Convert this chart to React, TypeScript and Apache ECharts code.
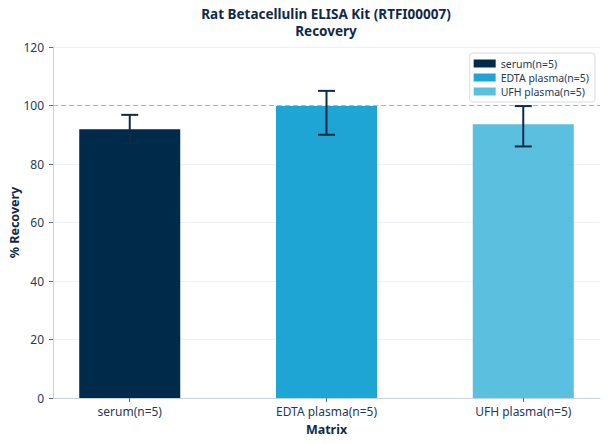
import React, { useEffect, useRef } from "react";
import * as echarts from "echarts";

const categories = ["serum(n=5)", "EDTA plasma(n=5)", "UFH plasma(n=5)"];
const recovery = [91.9, 99.8, 93.6];
const errLow = [87, 90, 86];
const errHigh = [96.8, 105, 99.8];
const barColors = ["#002a4a", "#1ea5d4", "#5bbfe0"];
const yTicks = [0, 20, 40, 60, 80, 100, 120];
const refLine = [100];

const TEXT = "#1f3a55";
const DARK = "#0f2a45";
const FONT = "Noto Sans";
const X_MIN = -0.39;
const X_MAX = 2.39;

const App: React.FC = () => {
  const ref = useRef<HTMLDivElement>(null);

  useEffect(() => {
    if (!ref.current) return;
    const chart = echarts.init(ref.current, null, { renderer: "svg" });

    const barSeries = categories.map((name, i) => ({
      name,
      type: "bar",
      barWidth: 101,
      barGap: "-100%",
      itemStyle: { color: barColors[i] },
      data: [[i, recovery[i]]],
      z: 2,
    }));

    const option = {
      animation: false,
      textStyle: { fontFamily: FONT },
      title: {
        text: "Rat Betacellulin ELISA Kit (RTFI00007)\nRecovery",
        left: 326,
        top: 5,
        padding: 0,
        textAlign: "center",
        textStyle: {
          fontFamily: FONT,
          fontSize: 13.5,
          fontWeight: "bold",
          color: DARK,
          lineHeight: 17,
        },
      },
      legend: {
        orient: "vertical",
        right: 13,
        top: 53,
        data: categories,
        icon: "rect",
        itemWidth: 22,
        itemHeight: 8,
        itemGap: 3,
        padding: [5, 6, 5, 4],
        borderColor: "#d5dde5",
        borderWidth: 1,
        borderRadius: 3,
        textStyle: { fontFamily: FONT, fontSize: 10.5, color: TEXT },
      },
      grid: { left: 53, right: 8, top: 47, bottom: 46, outerBoundsMode: "none", containLabel: false },
      xAxis: {
        type: "value",
        min: X_MIN,
        max: X_MAX,
        name: "Matrix",
        nameLocation: "middle",
        nameGap: 25,
        nameMoveOverlap: false,
        nameTextStyle: { fontFamily: FONT, fontSize: 12.5, fontWeight: "bold", color: DARK },
        axisLine: { show: true, onZero: false, lineStyle: { color: "#c9d1d9", width: 1 } },
        axisTick: {
          show: true,
          customValues: [0, 1, 2],
          length: 4,
          lineStyle: { color: "#5a6b7c" },
        },
        axisLabel: {
          customValues: [0, 1, 2],
          formatter: (v: number) => categories[Math.round(v)] ?? "",
          fontFamily: FONT,
          fontSize: 12,
          color: TEXT,
          margin: 7,
        },
        splitLine: { show: false },
      },
      yAxis: {
        type: "value",
        min: 0,
        max: 120,
        interval: 20,
        name: "% Recovery",
        nameLocation: "middle",
        nameGap: 32,
        nameMoveOverlap: false,
        nameTextStyle: { fontFamily: FONT, fontSize: 12.5, fontWeight: "bold", color: DARK },
        axisLine: { show: true, onZero: false, lineStyle: { color: "#c9d1d9", width: 1 } },
        axisTick: { show: true, length: 4, lineStyle: { color: "#5a6b7c" } },
        axisLabel: {
          fontFamily: FONT,
          fontSize: 12,
          color: TEXT,
          margin: 9,
          formatter: (v: number) => (yTicks.includes(v) ? String(v) : ""),
        },
        splitLine: { show: true, lineStyle: { color: "#edf1f5", width: 1 } },
      },
      series: [
        ...barSeries,
        {
          name: "reference",
          type: "custom",
          z: 3,
          silent: true,
          data: refLine.map((v) => [v]),
          renderItem: (params: any, api: any) => {
            const a = api.coord([X_MIN, api.value(0)]);
            const b = api.coord([X_MAX, api.value(0)]);
            return {
              type: "line",
              shape: { x1: a[0], y1: a[1], x2: b[0], y2: b[1] },
              style: { stroke: "#7ccbe9", lineWidth: 1, lineDash: [5, 3] },
            };
          },
        },
        {
          name: "error",
          type: "custom",
          z: 5,
          data: categories.map((_, i) => [i, errLow[i], errHigh[i]]),
          renderItem: (params: any, api: any) => {
            const x = api.value(0);
            const lo = api.coord([x, api.value(1)]);
            const hi = api.coord([x, api.value(2)]);
            const half = 8.5;
            const style = { stroke: DARK, lineWidth: 2 };
            return {
              type: "group",
              children: [
                { type: "line", shape: { x1: lo[0], y1: lo[1], x2: hi[0], y2: hi[1] }, style },
                { type: "line", shape: { x1: hi[0] - half, y1: hi[1], x2: hi[0] + half, y2: hi[1] }, style },
                { type: "line", shape: { x1: lo[0] - half, y1: lo[1], x2: lo[0] + half, y2: lo[1] }, style },
              ],
            };
          },
        },
      ],
    };

    chart.setOption(option as any);
    return () => {
      chart.dispose();
    };
  }, []);

  return (
    <div
      ref={ref}
      style={{ position: "fixed", left: 0, top: 0, width: 608, height: 444, background: "#fff" }}
    />
  );
};

export default App;
